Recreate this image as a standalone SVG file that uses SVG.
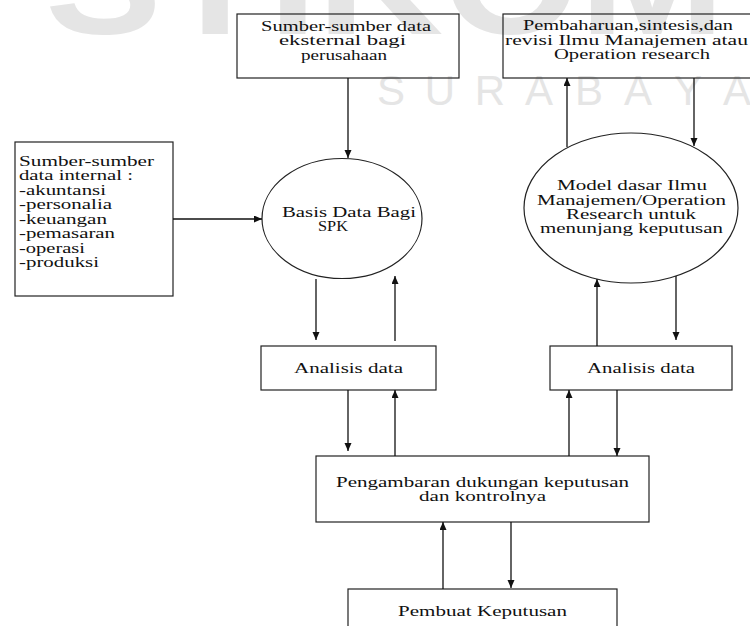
<svg xmlns="http://www.w3.org/2000/svg" width="750" height="626" viewBox="0 0 750 626">
<style>
.box{fill:none;stroke:#222;stroke-width:1.2}
.el{fill:none;stroke:#222;stroke-width:1.2}
.t{font-family:"Liberation Serif","Times New Roman",serif;font-size:15px;fill:#111}
.c{stroke:#111;stroke-width:1.3;fill:none;marker-end:url(#ah)}
.wm{font-family:"Liberation Sans",Arial,sans-serif;fill:#e5e5e5}
</style>
<defs>
<marker id="ah" markerUnits="userSpaceOnUse" markerWidth="9" markerHeight="8" refX="8" refY="3.5" orient="auto">
<path d="M0,0 L8,3.5 L0,7 z" fill="#111"/>
</marker>
</defs>
<rect width="750" height="626" fill="#fff"/>
<g id="watermark">
<text class="wm" x="45" y="34" font-size="150" font-weight="bold" textLength="680" lengthAdjust="spacingAndGlyphs">STIKOM</text>
<text class="wm" y="105" font-size="42" font-weight="300" text-anchor="middle"><tspan x="391">S</tspan><tspan x="440">U</tspan><tspan x="490">R</tspan><tspan x="539">A</tspan><tspan x="589">B</tspan><tspan x="638">A</tspan><tspan x="688">Y</tspan><tspan x="737">A</tspan></text>
</g>
<g id="ext">
<rect class="box" x="237" y="14" width="222" height="64"/>
<text class="t" x="261" y="30.5" textLength="170" lengthAdjust="spacingAndGlyphs">Sumber-sumber data</text>
<text class="t" x="279" y="45" textLength="127" lengthAdjust="spacingAndGlyphs">eksternal bagi</text>
<text class="t" x="301" y="59.5" textLength="86" lengthAdjust="spacingAndGlyphs">perusahaan</text>
</g>
<g id="update">
<rect class="box" x="503" y="14" width="252" height="64"/>
<text class="t" x="523" y="30" textLength="210" lengthAdjust="spacingAndGlyphs">Pembaharuan,sintesis,dan</text>
<text class="t" x="505" y="44.5" textLength="243" lengthAdjust="spacingAndGlyphs">revisi Ilmu Manajemen atau</text>
<text class="t" x="554" y="59" textLength="156" lengthAdjust="spacingAndGlyphs">Operation research</text>
</g>
<g id="internal">
<rect class="box" x="15" y="142" width="158" height="154"/>
<text class="t" x="19" y="165.5" textLength="135" lengthAdjust="spacingAndGlyphs">Sumber-sumber</text>
<text class="t" x="19" y="180" textLength="114" lengthAdjust="spacingAndGlyphs">data internal :</text>
<text class="t" x="19" y="194.5" textLength="87" lengthAdjust="spacingAndGlyphs">-akuntansi</text>
<text class="t" x="19" y="209" textLength="93" lengthAdjust="spacingAndGlyphs">-personalia</text>
<text class="t" x="19" y="223.5" textLength="88" lengthAdjust="spacingAndGlyphs">-keuangan</text>
<text class="t" x="19" y="238" textLength="96" lengthAdjust="spacingAndGlyphs">-pemasaran</text>
<text class="t" x="19" y="252.5" textLength="66" lengthAdjust="spacingAndGlyphs">-operasi</text>
<text class="t" x="19" y="267" textLength="80" lengthAdjust="spacingAndGlyphs">-produksi</text>
</g>
<g id="basisdata">
<ellipse class="el" cx="342" cy="218.5" rx="80" ry="60"/>
<text class="t" x="282" y="216.5" textLength="134" lengthAdjust="spacingAndGlyphs">Basis Data Bagi</text>
<text class="t" x="318" y="231" textLength="30" lengthAdjust="spacingAndGlyphs">SPK</text>
</g>
<g id="model">
<ellipse class="el" cx="631" cy="208" rx="107" ry="75"/>
<text class="t" x="557" y="190" textLength="150" lengthAdjust="spacingAndGlyphs">Model dasar Ilmu</text>
<text class="t" x="537" y="204.5" textLength="189" lengthAdjust="spacingAndGlyphs">Manajemen/Operation</text>
<text class="t" x="566" y="219" textLength="130" lengthAdjust="spacingAndGlyphs">Research untuk</text>
<text class="t" x="540" y="233" textLength="183" lengthAdjust="spacingAndGlyphs">menunjang keputusan</text>
</g>
<g id="analisis1">
<rect class="box" x="261" y="346" width="175" height="44"/>
<text class="t" x="294" y="372.5" textLength="109" lengthAdjust="spacingAndGlyphs">Analisis data</text>
</g>
<g id="analisis2">
<rect class="box" x="550" y="346" width="182" height="44"/>
<text class="t" x="587" y="372.5" textLength="108" lengthAdjust="spacingAndGlyphs">Analisis data</text>
</g>
<g id="pengambaran">
<rect class="box" x="316" y="456" width="333" height="66"/>
<text class="t" x="336" y="486.5" textLength="293" lengthAdjust="spacingAndGlyphs">Pengambaran dukungan keputusan</text>
<text class="t" x="419" y="500.5" textLength="127" lengthAdjust="spacingAndGlyphs">dan kontrolnya</text>
</g>
<g id="pembuat">
<rect class="box" x="348" y="589" width="269" height="45"/>
<text class="t" x="398" y="616" textLength="169" lengthAdjust="spacingAndGlyphs">Pembuat Keputusan</text>
</g>
<g id="connectors">
<path class="c" d="M348,78 V158"/>
<path class="c" d="M173,219 H262"/>
<path class="c" d="M316,279 V340"/>
<path class="c" d="M395,341 V276"/>
<path class="c" d="M348,390 V451"/>
<path class="c" d="M395,456 V390"/>
<path class="c" d="M567,147 V78"/>
<path class="c" d="M694,78 V146"/>
<path class="c" d="M597,346 V279"/>
<path class="c" d="M676,276 V340"/>
<path class="c" d="M569,456 V390"/>
<path class="c" d="M617,390 V456"/>
<path class="c" d="M443,589 V522"/>
<path class="c" d="M511,522 V588"/>
</g>
</svg>
